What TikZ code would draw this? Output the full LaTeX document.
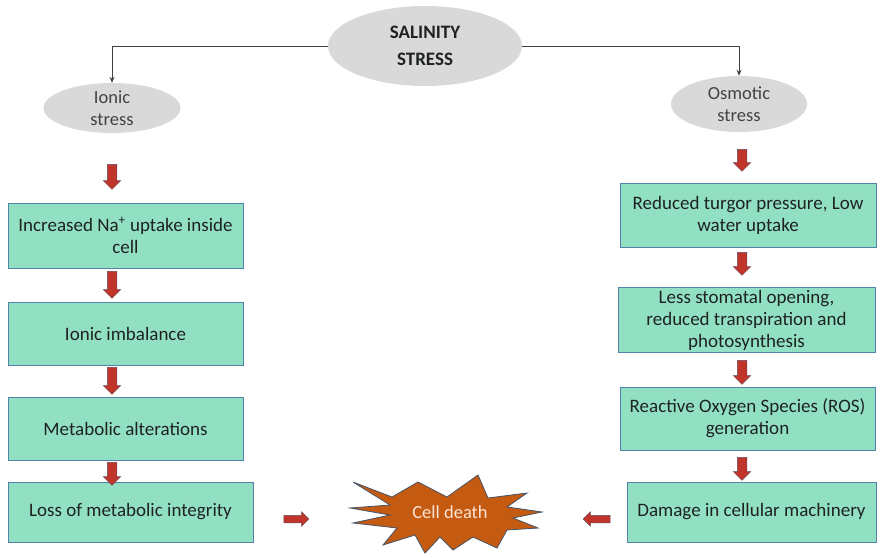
\documentclass[tikz,border=0pt]{standalone}
\usepackage{fontspec}
\setmainfont{Carlito}
\usetikzlibrary{shapes.geometric,shapes.arrows,arrows.meta}
\definecolor{boxfill}{RGB}{146,224,196}
\definecolor{boxline}{RGB}{84,130,170}
\definecolor{ellfill}{RGB}{217,217,217}
\definecolor{arrred}{RGB}{192,52,42}
\definecolor{arrline}{RGB}{100,75,95}
\definecolor{starfill}{RGB}{197,90,17}
\definecolor{starline}{RGB}{68,84,106}
\definecolor{startext}{RGB}{251,229,214}
\definecolor{txt}{RGB}{30,35,32}
\begin{document}
\begin{tikzpicture}[x=1pt,y=-1pt,
  box/.style={draw=boxline, line width=1pt, fill=boxfill, align=center,
    font=\fontsize{19}{22}\selectfont, text=txt, inner sep=2pt},
  ell/.style={ellipse, fill=ellfill, draw=none, align=center, inner sep=0pt,
    font=\fontsize{18.5}{21.5}\selectfont, text=txt!85},
  redarr/.style={single arrow, draw=arrline, fill=arrred, line width=0.5pt,
    inner sep=4.5pt, single arrow head extend=4pt},
  down/.style={redarr, shape border rotate=270},
  conn/.style={draw=black!75, line width=1pt, -{Stealth[length=6pt,width=5pt]}}
]
\useasboundingbox (0,0) rectangle (883,557);

% ellipses
\node[ell, minimum width=194pt, minimum height=80pt, font=\bfseries\fontsize{19}{27}\selectfont, text=txt] (top) at (425,46) {SALINITY\\STRESS};
\node[ell, minimum width=137pt, minimum height=50pt] (lell) at (112,108) {Ionic\\stress};
\node[ell, minimum width=136pt, minimum height=56pt] (rell) at (739,104) {Osmotic\\stress};

\draw[conn] (top.west) -| (lell.north);
\draw[conn] (top.east) -| (rell.north);

% left column
\node[box, minimum width=235pt, minimum height=65pt] (l1) at (125.5,235.5) {Increased Na\textsuperscript{+} uptake inside\\cell};
\node[box, minimum width=235pt, minimum height=63pt] (l2) at (125.5,333.5) {Ionic imbalance};
\node[box, minimum width=235pt, minimum height=63pt] (l3) at (125.5,428.5) {Metabolic alterations};
\node[box, minimum width=245pt, minimum height=60pt] (l4) at (130.5,512) {Loss of metabolic integrity};

% right column
\node[box, minimum width=256pt, minimum height=64pt] (r1) at (748,215) {Reduced turgor pressure, Low\\water uptake};
\node[box, minimum width=257pt, minimum height=64pt] (r2) at (746.5,320) {Less stomatal opening,\\reduced transpiration and\\photosynthesis};
\node[box, minimum width=255pt, minimum height=63pt] (r3) at (747.5,418.5) {Reactive Oxygen Species (ROS)\\generation};
\node[box, minimum width=249pt, minimum height=60pt] (r4) at (751.5,512) {Damage in cellular machinery};

% red block arrows left
\node[down, minimum height=25pt] (la0) at (112,174.5) {};
\node[down, minimum height=27pt] (la1) at (112,282.5) {};
\node[down, minimum height=27pt] (la2) at (112,378.5) {};
\node[down, minimum height=23pt] (la3) at (112,471.5) {};
% red block arrows right
\node[down, minimum height=22pt] (ra0) at (742,158) {};
\node[down, minimum height=23pt] (ra1) at (742,261.5) {};
\node[down, minimum height=24pt] (ra2) at (742,370) {};
\node[down, minimum height=23pt] (ra3) at (742,466.5) {};
% horizontal arrows
\node[redarr, minimum height=25pt, inner sep=3.5pt, single arrow head extend=3.5pt] (ha1) at (294.5,519) {};
\node[redarr, minimum height=27pt, inner sep=3.5pt, single arrow head extend=3.5pt, shape border rotate=180] (ha2) at (598.5,519) {};

% star
\draw[fill=starfill, draw=starline, line width=0.8pt, line join=miter]
 (353,482) -- (392,497) -- (418,482) -- (447,497) -- (478,475) -- (488,498)
 -- (527,493) -- (507,507) -- (542,512) -- (513,518) -- (538,528) -- (507,530)
 -- (497,548) -- (473,537) -- (453,550) -- (440,537) -- (425,553) -- (415,535)
 -- (383,545) -- (397,528) -- (353,523) -- (390,515) -- (350,508) -- (390,505) -- cycle;
\node[text=startext, font=\fontsize{18.5}{21}\selectfont] (cd) at (450,512) {Cell death};
\end{tikzpicture}
\end{document}
